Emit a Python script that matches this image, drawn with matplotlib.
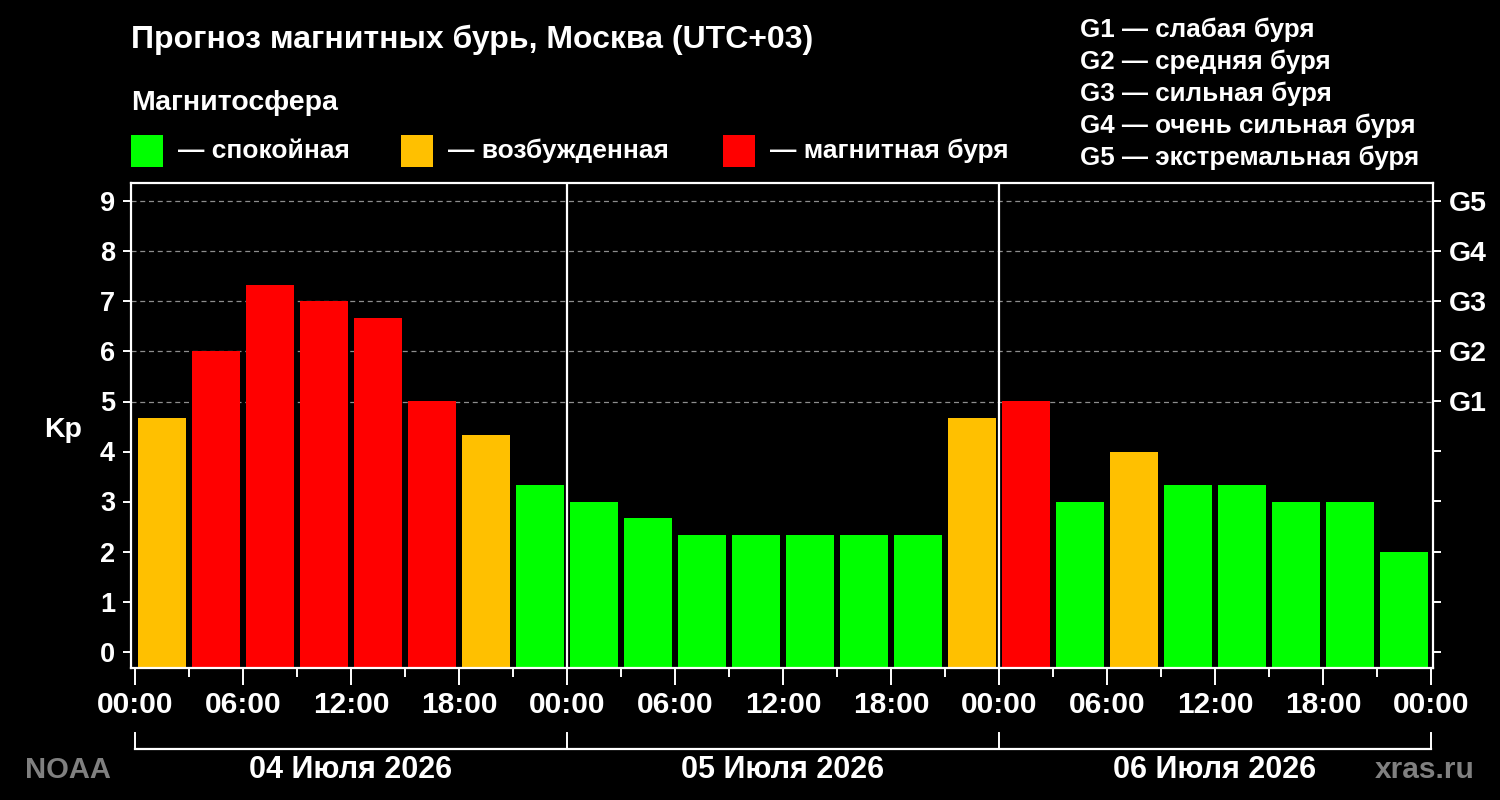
import matplotlib
matplotlib.use("Agg")
import matplotlib.pyplot as plt
from matplotlib.lines import Line2D
from matplotlib.patches import Rectangle

plt.rcParams['font.family'] = ['Liberation Sans', 'DejaVu Sans']
plt.rcParams['font.weight'] = 'bold'

# ---------------- data ----------------
kp_values = [4.67, 6.0, 7.33, 7.0, 6.67, 5.0, 4.33, 3.33,
             3.0, 2.67, 2.33, 2.33, 2.33, 2.33, 2.33, 4.67,
             5.0, 3.0, 4.0, 3.33, 3.33, 3.0, 3.0, 2.0]
hours_per_bar = 3
time_labels = ['00:00', '06:00', '12:00', '18:00',
               '00:00', '06:00', '12:00', '18:00',
               '00:00', '06:00', '12:00', '18:00', '00:00']
day_labels = ['04 Июля 2026', '05 Июля 2026', '06 Июля 2026']
g_levels = [5, 6, 7, 8, 9]
g_labels = ['G1', 'G2', 'G3', 'G4', 'G5']
g_descriptions = ['G1 — слабая буря', 'G2 — средняя буря', 'G3 — сильная буря',
                  'G4 — очень сильная буря', 'G5 — экстремальная буря']
state_labels = ['— спокойная', '— возбужденная', '— магнитная буря']
title = 'Прогноз магнитных бурь, Москва (UTC+03)'
subtitle = 'Магнитосфера'

GREEN, ORANGE, RED = '#00FF00', '#FFC000', '#FF0000'
state_colors = [GREEN, ORANGE, RED]


def color_for(v):
    if v >= 5:
        return RED
    if v >= 4:
        return ORANGE
    return GREEN


W, H = 1500, 800
fig = plt.figure(figsize=(15, 8), dpi=100, facecolor='black')
ax_l, ax_r, ax_b, ax_t = 131 / W, 1433 / W, 1 - 668 / H, 1 - 183 / H
ax = fig.add_axes([ax_l, ax_b, ax_r - ax_l, ax_t - ax_b], facecolor='black')

ylo, yhi = -0.33, 9.37
n = len(kp_values)
total_h = n * hours_per_bar
xs = [hours_per_bar * i + hours_per_bar / 2 for i in range(n)]
heights = [v - ylo for v in kp_values]
ax.bar(xs, heights, bottom=ylo, width=2.67,
       color=[color_for(v) for v in kp_values], linewidth=0, zorder=2)

ax.set_xlim(-0.22, total_h + 0.11)
ax.set_ylim(ylo, yhi)

# grid at G levels
for g in g_levels:
    ax.axhline(g, color='#8e8e8e', linestyle=(0, (4, 3)), linewidth=0.9, zorder=1)

# day separators
for d in range(1, len(day_labels)):
    ax.axvline(24 * d, color='white', linewidth=1.6, zorder=3)

for s in ax.spines.values():
    s.set_color('white')
    s.set_linewidth(1.6)

# x ticks
major = list(range(0, total_h + 1, 6))
minor = list(range(0, total_h + 1, 3))
ax.set_xticks(major)
ax.set_xticklabels(time_labels)
ax.set_xticks(minor, minor=True)
ax.tick_params(axis='x', which='major', direction='out', length=12.5, width=1.4,
               colors='white', labelsize=21.5, pad=4)
ax.tick_params(axis='x', which='minor', direction='out', length=6.5, width=1.4,
               colors='white')
for lab in ax.get_xticklabels():
    lab.set_fontweight('bold')

ax.set_yticks(range(0, 10))
ax.set_yticklabels([str(i) for i in range(10)])
ax.tick_params(axis='y', direction='out', length=5.5, width=1.4, colors='white',
               labelsize=19.5, pad=6)
for lab in ax.get_yticklabels():
    lab.set_fontweight('bold')

# right axis
axr = ax.twinx()
axr.set_ylim(ylo, yhi)
axr.set_yticks(range(0, 10))
axr.set_yticklabels(['' if i < 5 else g_labels[i - 5] for i in range(10)])
axr.tick_params(axis='y', direction='out', length=5.5, width=1.4, colors='white',
                labelsize=20.5, pad=6)
for lab in axr.get_yticklabels():
    lab.set_fontweight('bold')
for s in axr.spines.values():
    s.set_visible(False)

# Kp label
fig.text(63 / W, 1 - 430 / H, 'Kp', color='white', fontsize=20.5, fontweight='bold',
         ha='center', va='center')

# day bracket
trans = ax.get_xaxis_transform()
y_line = (668 - 749) / (668 - 183)
y_tick_top = (668 - 733) / (668 - 183)
y_date = (668 - 770) / (668 - 183)
ax.add_line(Line2D([0, total_h], [y_line, y_line], transform=trans, color='white',
                   linewidth=1.6, clip_on=False))
for d in range(len(day_labels) + 1):
    ax.add_line(Line2D([24 * d, 24 * d], [y_tick_top, y_line], transform=trans,
                       color='white', linewidth=1.4, clip_on=False))
for d, lab in enumerate(day_labels):
    ax.text(24 * d + 12, y_date, lab, transform=trans, color='white', fontsize=22,
            fontweight='bold', ha='center', va='center', clip_on=False)

# watermark-ish labels
fig.text(68 / W, 1 - 770 / H, 'NOAA', color='#808080', fontsize=21, fontweight='bold',
         ha='center', va='center')
fig.text(1425 / W, 1 - 770 / H, 'xras.ru', color='#808080', fontsize=21.5,
         fontweight='bold', ha='center', va='center')

# title & subtitle
fig.text(131 / W, 1 - 48 / H, title, color='white', fontsize=23, fontweight='bold',
         ha='left', va='baseline')
fig.text(131 / W, 1 - 110 / H, subtitle, color='white', fontsize=20.5, fontweight='bold',
         ha='left', va='baseline')

# state legend
sq_x = [131, 401, 723]
for xpx, col, lab in zip(sq_x, state_colors, state_labels):
    fig.add_artist(Rectangle((xpx / W, 1 - 167 / H), 32 / W, 32 / H, transform=fig.transFigure,
                             facecolor=col, edgecolor='none'))
    fig.text((xpx + 47) / W, 1 - 151 / H, lab, color='white', fontsize=19,
             fontweight='bold', ha='left', va='center')

# G scale description
for i, lab in enumerate(g_descriptions):
    fig.text(1080 / W, 1 - (37 + 32 * i) / H, lab, color='white', fontsize=18.7,
             fontweight='bold', ha='left', va='baseline')

fig.savefig('out.png', dpi=100, facecolor='black')
